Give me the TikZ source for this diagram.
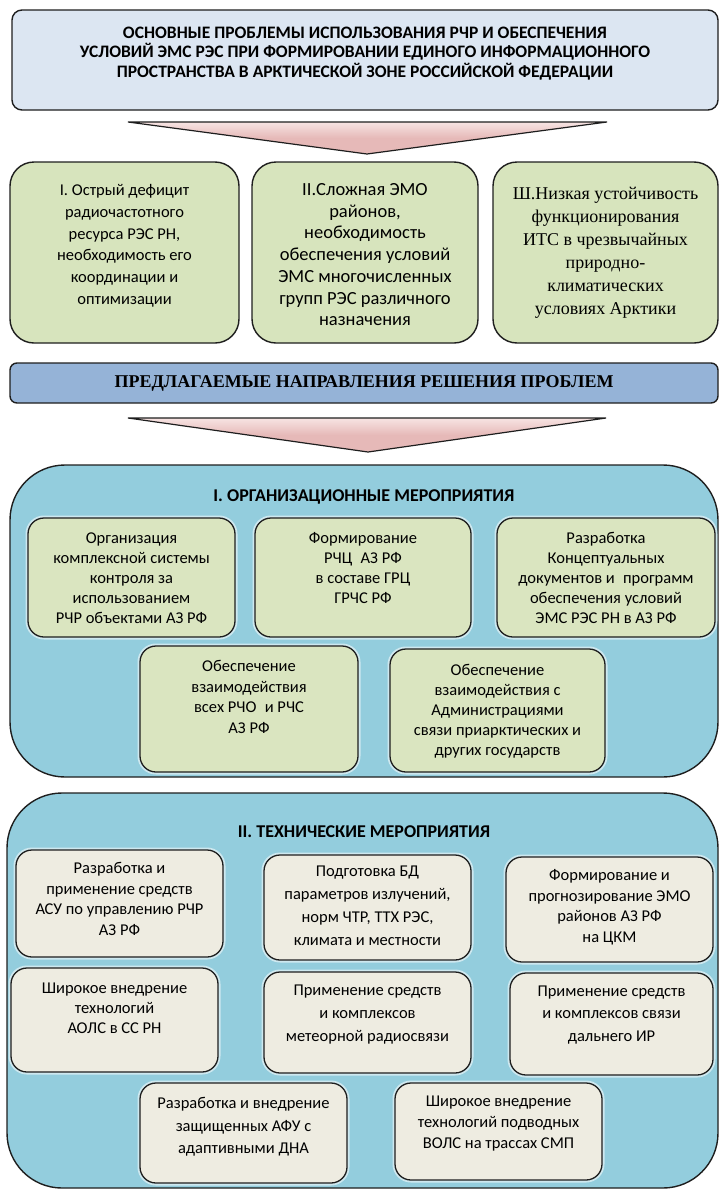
\documentclass[tikz,border=0pt]{standalone}
\usepackage{fontspec}
\setmainfont{Carlito}
\newfontfamily\serifrm{Liberation Serif}

\definecolor{edgec}{HTML}{1E1E1E}
\definecolor{topfill}{HTML}{DCE6F2}
\definecolor{probfill}{HTML}{D7E4BD}
\definecolor{barfill}{HTML}{95B3D7}
\definecolor{contfill}{HTML}{93CDDD}
\definecolor{orgfill}{HTML}{DAE5C0}
\definecolor{techfill}{HTML}{EEECE1}
\definecolor{pinkdark}{HTML}{E6B9B8}
\definecolor{pinklight}{HTML}{F7E4E3}

\newcommand\setfs[2]{\fontsize{#1}{#2}\selectfont}

\begin{document}
\begin{tikzpicture}[x=1pt,y=-1pt,
  every node/.style={inner sep=0pt, outer sep=0pt},
  topbox/.style={draw=edgec, line width=1.4pt, fill=topfill, rounded corners=10pt},
  probbox/.style={draw=edgec, line width=1.4pt, fill=probfill, rounded corners=24pt},
  barbox/.style={draw=edgec, line width=1.4pt, fill=barfill, rounded corners=7pt},
  contbox/.style={draw=edgec, line width=1.4pt, fill=contfill, rounded corners=55pt},
  orgbox/.style={draw=edgec, line width=1.3pt, fill=orgfill, rounded corners=16pt,
    preaction={draw=white, line width=5pt, opacity=0.55}},
  techbox/.style={draw=edgec, line width=1.3pt, fill=techfill, rounded corners=16pt,
    preaction={draw=white, line width=5pt, opacity=0.55}},
  arrowhead/.style={draw=edgec, line width=1.2pt, top color=pinklight, bottom color=pinkdark, middle color=pinkdark},
  toptext/.style={align=center, font=\bfseries\setfs{17.5}{19.5}},
  ptext/.style={align=center, anchor=north},
  ctitle/.style={font=\bfseries\setfs{18}{20}},
  btext/.style={align=center, anchor=north, font=\setfs{16.5}{20.5}}
]
\useasboundingbox (0,0) rectangle (721,1191);

% ---- heading block ----
\node[topbox, minimum width=706pt, minimum height=100pt] (head) at (365,60) {};
\node[toptext, anchor=north] (headtxt) at (365,26.7)
  {ОСНОВНЫЕ ПРОБЛЕМЫ ИСПОЛЬЗОВАНИЯ РЧР И ОБЕСПЕЧЕНИЯ\\
   УСЛОВИЙ ЭМС РЭС ПРИ ФОРМИРОВАНИИ ЕДИНОГО ИНФОРМАЦИОННОГО\\
   ПРОСТРАНСТВА В АРКТИЧЕСКОЙ ЗОНЕ РОССИЙСКОЙ ФЕДЕРАЦИИ};

% ---- first arrow ----
\coordinate (a1l) at (128,122);
\coordinate (a1r) at (607,122);
\coordinate (a1t) at (367,154);
\draw[arrowhead] (a1l) -- (a1r) -- (a1t) -- cycle;

% ---- problems ----
\node[probbox, minimum width=229pt, minimum height=181pt] (p1) at (124.5,252.5) {};
\node[probbox, minimum width=226pt, minimum height=181pt] (p2) at (365,252.5) {};
\node[probbox, minimum width=225pt, minimum height=181pt] (p3) at (605.5,252.5) {};
\node[ptext, font=\setfs{16.5}{21.7}] (p1t) at (124.5,184.6)
  {I. Острый дефицит\\ радиочастотного\\ ресурса РЭС РН,\\ необходимость его\\ координации и\\ оптимизации};
\node[ptext, font=\setfs{18.5}{21.7}] (p2t) at (365,183.5)
  {II.Сложная ЭМО\\ районов,\\ необходимость\\ обеспечения условий\\ ЭМС многочисленных\\ групп РЭС различного\\ назначения};
\node[ptext, font=\serifrm\setfs{18}{23}] (p3t) at (605.5,187)
  {Ш.Низкая устойчивость\\ функционирования\\ ИТС в чрезвычайных\\ природно-\\ климатических\\ условиях Арктики};

% ---- proposed directions bar ----
\node[barbox, minimum width=708pt, minimum height=40pt] (bar) at (364,383) {};
\node[font=\serifrm\bfseries\setfs{18}{20}] (bartxt) at (364,383)
  {ПРЕДЛАГАЕМЫЕ НАПРАВЛЕНИЯ РЕШЕНИЯ ПРОБЛЕМ};

% ---- second arrow ----
\coordinate (a2l) at (128,418);
\coordinate (a2r) at (606,418);
\coordinate (a2t) at (368,452);
\draw[arrowhead] (a2l) -- (a2r) -- (a2t) -- cycle;

% ---- organisational measures ----
\node[contbox, minimum width=708pt, minimum height=312pt] (org) at (364,621) {};
\node[ctitle] (orgtitle) at (364,497) {I. ОРГАНИЗАЦИОННЫЕ МЕРОПРИЯТИЯ};

\node[orgbox, minimum width=207pt, minimum height=119pt] (oa) at (131.5,577.5) {};
\node[orgbox, minimum width=216pt, minimum height=119pt] (ob) at (363,577.5) {};
\node[orgbox, minimum width=218pt, minimum height=119pt] (oc) at (606,577.5) {};
\node[orgbox, minimum width=218pt, minimum height=126pt] (od) at (249,709) {};
\node[orgbox, minimum width=215pt, minimum height=123pt] (oe) at (497.5,710.5) {};

\node[btext, font=\setfs{16.5}{20}] (oat) at (131.5,532.6)
  {Организация\\ комплексной системы\\ контроля за\\ использованием\\ РЧР объектами АЗ РФ};
\node[btext, font=\setfs{16.5}{20}] (obt) at (363,532.6)
  {Формирование\\ РЧЦ\enspace АЗ РФ\\ в составе ГРЦ\\ ГРЧС РФ};
\node[btext, font=\setfs{16.5}{20}] (oct) at (606,532.6)
  {Разработка\\ Концептуальных\\ документов и\enspace программ\\ обеспечения условий\\ ЭМС РЭС РН в АЗ РФ};
\node[btext, font=\setfs{16.5}{20.5}] (odt) at (249,660.6)
  {Обеспечение\\ взаимодействия\\ всех РЧО\enspace и РЧС\\ АЗ РФ};
\node[btext, font=\setfs{16.5}{20}] (oet) at (497.5,664.6)
  {Обеспечение\\ взаимодействия с\\ Администрациями\\ связи приарктических и\\ других государств};

% ---- technical measures ----
\node[contbox, minimum width=711pt, minimum height=395pt] (tech) at (362.5,990.5) {};
\node[ctitle] (techtitle) at (364,832) {II. ТЕХНИЧЕСКИЕ МЕРОПРИЯТИЯ};

\node[techbox, minimum width=207pt, minimum height=107pt] (t1) at (119.5,903.5) {};
\node[techbox, minimum width=207pt, minimum height=105pt] (t2) at (367.5,907.5) {};
\node[techbox, minimum width=207pt, minimum height=105pt] (t3) at (609.5,909.5) {};
\node[techbox, minimum width=207pt, minimum height=104pt] (t4) at (114.5,1020) {};
\node[techbox, minimum width=207pt, minimum height=101pt] (t5) at (367.5,1022.5) {};
\node[techbox, minimum width=203pt, minimum height=102pt] (t6) at (611.5,1024) {};
\node[techbox, minimum width=207pt, minimum height=100pt] (t7) at (243.5,1133) {};
\node[techbox, minimum width=207pt, minimum height=97pt] (t8) at (498.5,1131.5) {};

\node[btext] (t1t) at (119.5,862.6)
  {Разработка и\\ применение средств\\ АСУ по управлению РЧР\\ АЗ РФ};
\node[btext, font=\setfs{16.5}{23}] (t2t) at (367.5,865.6)
  {Подготовка БД\\ параметров излучений,\\ норм ЧТР, ТТХ РЭС,\\ климата и местности};
\node[btext] (t3t) at (609.5,869.6)
  {Формирование и\\ прогнозирование ЭМО\\ районов АЗ РФ\\ на ЦКМ};
\node[btext, font=\setfs{16.5}{20}] (t4t) at (114.5,982.6)
  {Широкое внедрение\\ технологий\\ АОЛС в СС РН};
\node[btext, font=\setfs{16.5}{23}] (t5t) at (367.5,984.6)
  {Применение средств\\ и комплексов\\ метеорной радиосвязи};
\node[btext, font=\setfs{16.5}{22.5}] (t6t) at (611.5,985.6)
  {Применение средств\\ и комплексов связи\\ дальнего ИР};
\node[btext, font=\setfs{16.5}{22.5}] (t7t) at (243.5,1097.6)
  {Разработка и внедрение\\ защищенных АФУ с\\ адаптивными ДНА};
\node[btext, font=\setfs{16.5}{21}] (t8t) at (498.5,1095.6)
  {Широкое внедрение\\ технологий подводных\\ ВОЛС на трассах СМП};
\end{tikzpicture}
\end{document}
